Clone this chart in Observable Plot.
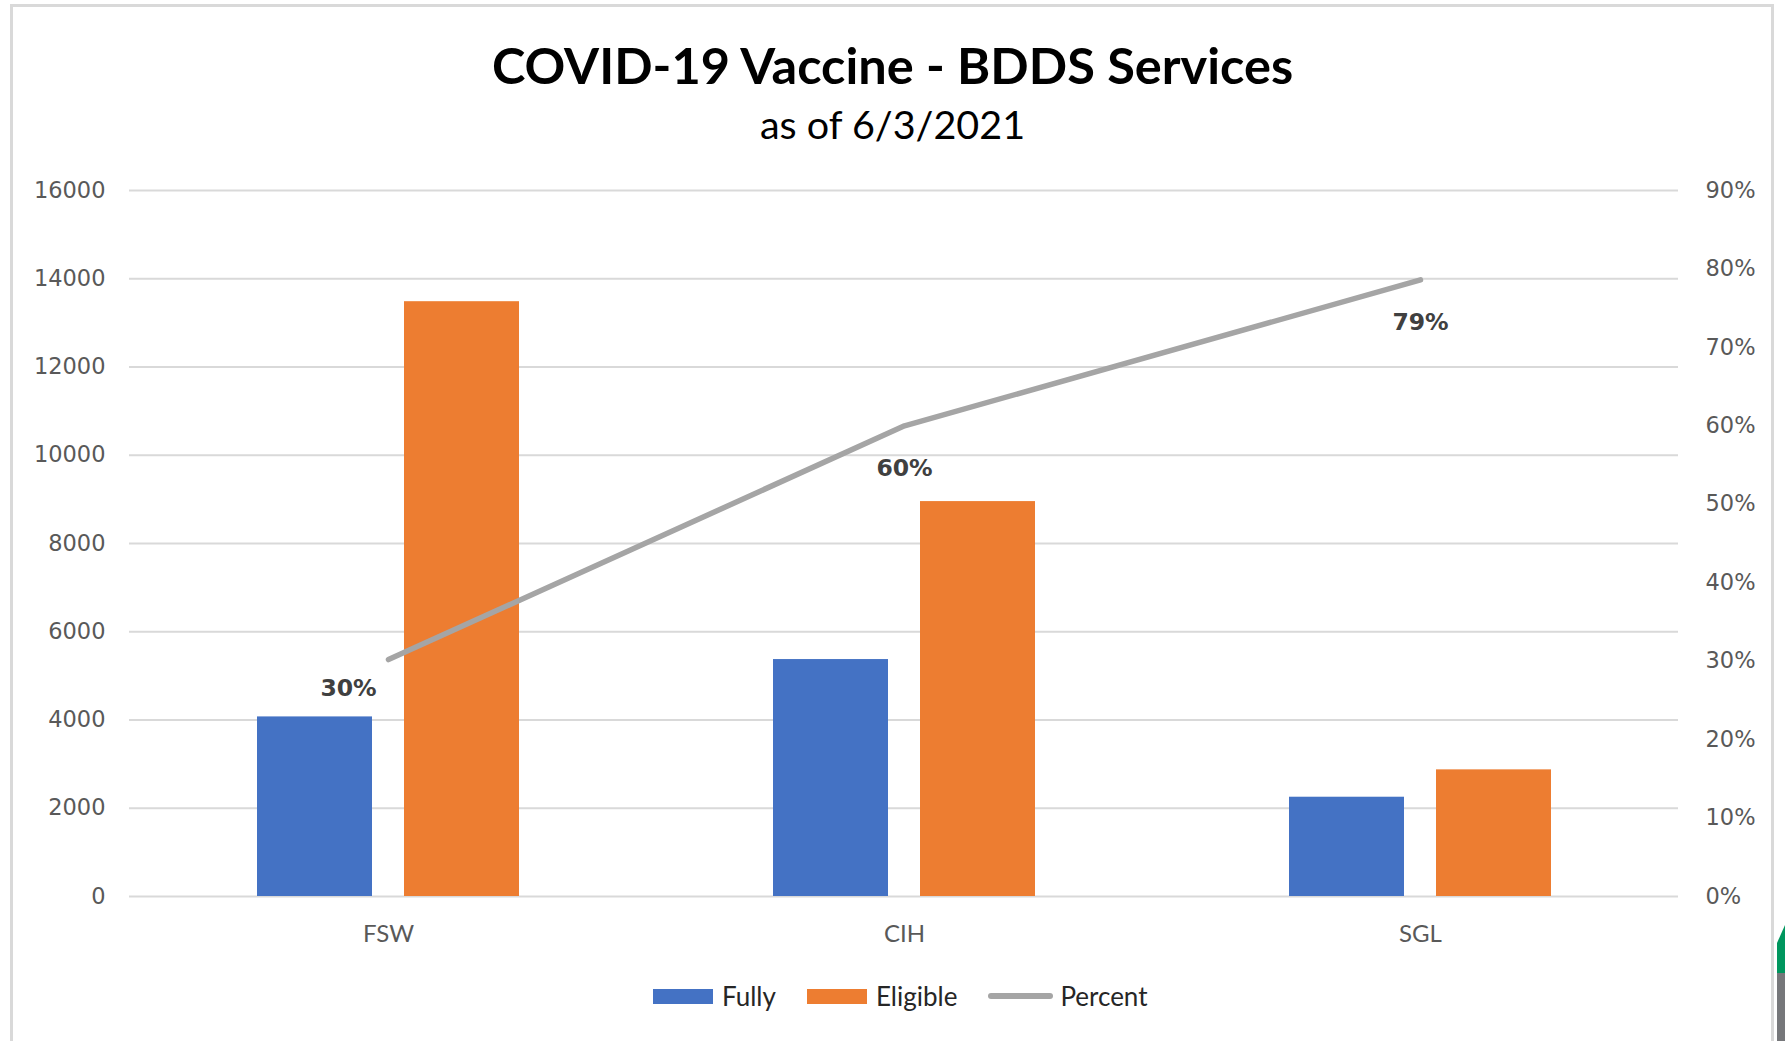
<!DOCTYPE html>
<html>
<head>
<meta charset="utf-8">
<script src="https://cdn.jsdelivr.net/npm/d3@7"></script>
<script src="https://cdn.jsdelivr.net/npm/@observablehq/plot@0.6"></script>
<style>
  html, body { margin: 0; padding: 0; background: #fff; }
  #wrap { position: relative; width: 1785px; height: 1041px; overflow: hidden; background: #fff; }
  #frame { position: absolute; left: 10px; top: 4px; width: 1764px; height: 1100px; border: 3px solid #d9d9d9; box-sizing: border-box; }
  #title { position: absolute; left: 0; width: 1785px; top: 35px; text-align: center; font-family: Lato, sans-serif; font-weight: 700; font-size: 50.5px; line-height: 60px; color: #000; }
  #subtitle { position: absolute; left: 0; width: 1785px; top: 101px; text-align: center; font-family: Lato, sans-serif; font-weight: 400; font-size: 39.5px; line-height: 46px; color: #000; }
  #chart { position: absolute; left: 0; top: 150px; }
  #legend { position: absolute; left: 653px; top: 980px; height: 32px; display: flex; align-items: center; font-family: Lato, sans-serif; font-size: 26px; color: #262626; }
  .sw { display: inline-block; width: 60px; height: 15px; margin-right: 9px; }
  .ln { display: inline-block; width: 65px; height: 6px; border-radius: 3px; background: #a5a5a5; margin-right: 7px; }
  .item { display: flex; align-items: center; margin-right: 31px; }
  #deco { position: absolute; left: 1777px; top: 925px; width: 8px; height: 116px; }
</style>
</head>
<body>
<div id="wrap">
  <div id="frame"></div>
  <div id="title">COVID-19 Vaccine - BDDS Services</div>
  <div id="subtitle">as of 6/3/2021</div>
  <div id="chart"></div>
  <div id="legend"></div>
  <svg id="deco" width="8" height="116"><polygon points="8,0 8,48 0,48 0,18" fill="#00965e"/><rect x="0" y="48" width="8" height="68" fill="#76777a"/></svg>
</div>
<script>
// ---- data ----
const categories = ["FSW", "CIH", "SGL"];
const fully = [4070, 5370, 2250];
const eligible = [13480, 8950, 2870];
const percent = [0.302, 0.600, 0.786];
const percentLabels = ["30%", "60%", "79%"];
const leftTicks = [0, 2000, 4000, 6000, 8000, 10000, 12000, 14000, 16000];
const rightTicks = [0, 0.1, 0.2, 0.3, 0.4, 0.5, 0.6, 0.7, 0.8, 0.9];
const rightTickLabels = ["0%", "10%", "20%", "30%", "40%", "50%", "60%", "70%", "80%", "90%"];
const seriesNames = ["Fully", "Eligible", "Percent"];
const seriesColors = ["#4472c4", "#ed7d31", "#a5a5a5"];

const rows = categories.map((c, i) => ({category: c, fully: fully[i], eligible: eligible[i], percent: percent[i], label: percentLabels[i]}));

const yMax = leftTicks[leftTicks.length - 1];
const pMax = rightTicks[rightTicks.length - 1];
const pctToY = (p) => p / pMax * yMax;

const tickFont = "DejaVu Sans, sans-serif";

const chart = Plot.plot({
  width: 1785,
  height: 806,
  marginLeft: 129,
  marginRight: 107,
  marginTop: 40,
  marginBottom: 60,
  style: {background: "transparent", fontFamily: tickFont},
  x: {domain: categories, padding: 0},
  y: {domain: [0, yMax]},
  marks: [
    Plot.gridY(leftTicks, {stroke: "#d9d9d9", strokeOpacity: 1, strokeWidth: 2}),
    Plot.barY(rows, {x: "category", y: "fully", fill: seriesColors[0], insetLeft: 127, insetRight: 274}),
    Plot.barY(rows, {x: "category", y: "eligible", fill: seriesColors[1], insetLeft: 274, insetRight: 127}),
    Plot.line(rows, {x: "category", y: (d) => pctToY(d.percent), stroke: seriesColors[2], strokeWidth: 5.5, strokeLinecap: "round", strokeLinejoin: "round"}),
    Plot.text(rows, {filter: (d, i) => i === 0, x: "category", y: (d) => pctToY(d.percent), text: "label", dx: -40, dy: 29, fontFamily: tickFont, fontWeight: "bold", fontSize: 23.5, fill: "#404040"}),
    Plot.text(rows, {filter: (d, i) => i > 0, x: "category", y: (d) => pctToY(d.percent), text: "label", dy: 43, fontFamily: tickFont, fontWeight: "bold", fontSize: 23.5, fill: "#404040"}),
    Plot.axisY(leftTicks, {anchor: "left", tickSize: 0, tickPadding: 24, fontSize: 22.5, fontFamily: tickFont, fill: "#595959", label: null, tickFormat: (d) => String(d)}),
    Plot.axisY(rightTicks.map(pctToY), {anchor: "right", tickSize: 0, tickPadding: 27, fontSize: 22.5, fontFamily: tickFont, fill: "#595959", label: null, tickFormat: (d, i) => rightTickLabels[i]}),
    Plot.axisX({tickSize: 0, tickPadding: 28, fontSize: 24, fontFamily: "Lato, sans-serif", fill: "#595959", label: null})
  ]
});
document.getElementById("chart").appendChild(chart);

// legend
const legend = document.getElementById("legend");
seriesNames.forEach((name, i) => {
  const item = document.createElement("div");
  item.className = "item";
  const sw = document.createElement("span");
  sw.className = i === 2 ? "ln" : "sw";
  if (i < 2) sw.style.background = seriesColors[i];
  const t = document.createElement("span");
  t.textContent = name;
  item.appendChild(sw);
  item.appendChild(t);
  legend.appendChild(item);
});
</script>
</body>
</html>
